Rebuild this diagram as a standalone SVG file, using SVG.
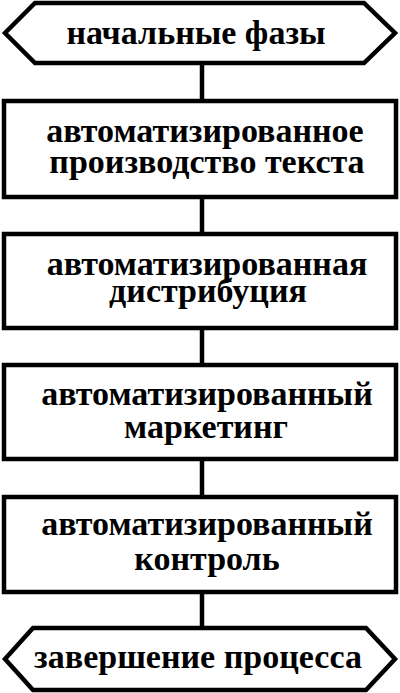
<svg xmlns="http://www.w3.org/2000/svg" width="400" height="693" viewBox="0 0 400 693">
<style>
.s{fill:#fff;stroke:#000;stroke-width:4.5;stroke-linejoin:miter}
.c{stroke:#000;stroke-width:4.5;fill:none}
text{font-family:"Liberation Serif","Times New Roman",serif;font-weight:bold;font-size:34px;fill:#000;text-anchor:middle}
</style>
<rect width="400" height="693" fill="#fff"/>
<g id="connectors">
<line class="c" x1="202" y1="63" x2="202" y2="101"/>
<line class="c" x1="202" y1="197" x2="202" y2="234"/>
<line class="c" x1="202" y1="328" x2="202" y2="365"/>
<line class="c" x1="202" y1="459" x2="202" y2="497"/>
<line class="c" x1="202" y1="592" x2="202" y2="628"/>
</g>
<g id="start">
<polygon class="s" points="35,3 364,3 395,33 364,63 35,63 5,33"/>
<text x="196" y="44">начальные фазы</text>
</g>
<g id="n1">
<rect class="s" x="4" y="101" width="392" height="96"/>
<text x="205" y="142">автоматизированное</text>
<text x="207" y="173">производство текста</text>
</g>
<g id="n2">
<rect class="s" x="4" y="234" width="392" height="94"/>
<text x="207" y="275">автоматизированная</text>
<text x="208" y="302">дистрибуция</text>
</g>
<g id="n3">
<rect class="s" x="4" y="365" width="392" height="94"/>
<text x="207" y="405">автоматизированный</text>
<text x="206" y="438">маркетинг</text>
</g>
<g id="n4">
<rect class="s" x="4" y="497" width="392" height="95"/>
<text x="207" y="535">автоматизированный</text>
<text x="207" y="570">контроль</text>
</g>
<g id="end">
<polygon class="s" points="33,628 366,628 395,659 366,690 33,690 5,659"/>
<text x="198" y="668">завершение процесса</text>
</g>
</svg>
